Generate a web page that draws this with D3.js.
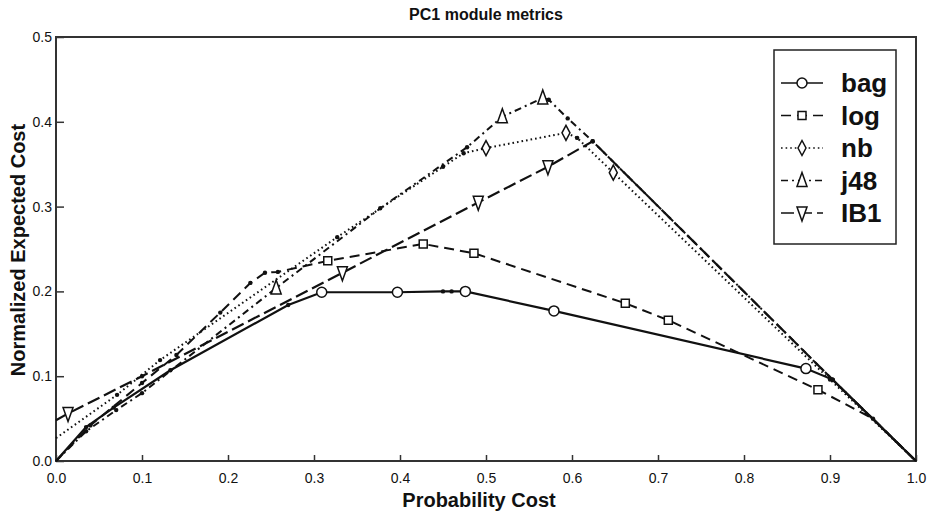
<!DOCTYPE html>
<html>
<head>
<meta charset="utf-8">
<script src="https://cdn.jsdelivr.net/npm/d3@7"></script>
<style>
  body { margin: 0; background: #fff; }
  text { font-family: "Liberation Sans", Arial, sans-serif; fill: #111; }
</style>
</head>
<body>
<div class="chart"></div>
<script>
// probability cost (x) / normalized expected cost (y)
var bagX = [0, 0.035, 0.067, 0.133, 0.27, 0.309, 0.397, 0.45, 0.46, 0.476, 0.579, 0.872, 0.903, 1];
var bagY = [0, 0.04, 0.063, 0.107, 0.184, 0.199, 0.199, 0.2, 0.2, 0.2, 0.177, 0.109, 0.096, 0];
var bagMark = [0, 0, 0, 0, 0, 1, 1, 0, 0, 1, 1, 1, 0, 0];

var logX = [0, 0.04, 0.1, 0.14, 0.191, 0.226, 0.243, 0.258, 0.316, 0.427, 0.486, 0.662, 0.712, 0.886, 0.95, 1];
var logY = [0, 0.042, 0.092, 0.125, 0.175, 0.21, 0.222, 0.223, 0.236, 0.256, 0.245, 0.186, 0.166, 0.084, 0.05, 0];
var logMark = [0, 0, 0, 0, 0, 0, 0, 0, 1, 1, 1, 1, 1, 1, 0, 0];

var nbX = [0, 0.071, 0.121, 0.327, 0.45, 0.474, 0.5, 0.593, 0.606, 0.648, 0.9, 1];
var nbY = [0.027, 0.078, 0.119, 0.264, 0.347, 0.363, 0.369, 0.387, 0.381, 0.34, 0.096, 0];
var nbMark = [0, 0, 0, 0, 0, 0, 1, 1, 0, 1, 0, 0];

var j48X = [0, 0.035, 0.07, 0.1, 0.256, 0.377, 0.478, 0.519, 0.566, 0.573, 0.595, 0.624, 0.903, 1];
var j48Y = [0, 0.035, 0.06, 0.08, 0.204, 0.298, 0.37, 0.406, 0.428, 0.426, 0.404, 0.377, 0.096, 0];
var j48Mark = [0, 0, 0, 0, 1, 0, 0, 1, 1, 0, 0, 0, 0, 0];

var ib1X = [0, 0.014, 0.1, 0.333, 0.491, 0.572, 0.624, 0.903, 1];
var ib1Y = [0.048, 0.056, 0.1, 0.222, 0.305, 0.347, 0.377, 0.096, 0];
var ib1Mark = [0, 1, 0, 1, 1, 1, 0, 0, 0];

var seriesNames = ["bag", "log", "nb", "j48", "IB1"];
var xTicks = [0, 0.1, 0.2, 0.3, 0.4, 0.5, 0.6, 0.7, 0.8, 0.9, 1.0];
var yTicks = [0, 0.1, 0.2, 0.3, 0.4, 0.5];

var width = 938, height = 516;
var margin = {top: 37, right: 22, bottom: 55, left: 56};

var svg = d3.select(".chart").append("svg")
    .attr("width", width)
    .attr("height", height);

var x = d3.scaleLinear().domain([0, 1]).range([margin.left, width - margin.right]);
var y = d3.scaleLinear().domain([0, 0.5]).range([height - margin.bottom, margin.top]);

function zip(xs, ys, ms) {
  return xs.map(function(v, i) { return {x: v, y: ys[i], m: ms[i], i: i, n: xs.length}; });
}

// marker shapes
function markerPath(kind) {
  switch (kind) {
    case "circle": return "M5,0A5,5 0 1,1 -5,0A5,5 0 1,1 5,0Z";
    case "square": return "M-4,-4H4V4H-4Z";
    case "diamond": return "M0,-7.5L4,0L0,7.5L-4,0Z";
    case "up": return "M0,-8L5,6H-5Z";
    case "down": return "M0,8L5,-6H-5Z";
  }
}

var series = [
  {name: "bag", data: zip(bagX, bagY, bagMark), dash: null, w: 2.2, mk: "circle"},
  {name: "log", data: zip(logX, logY, logMark), dash: "10,6", w: 2, mk: "square"},
  {name: "nb", data: zip(nbX, nbY, nbMark), dash: "1.6,3", w: 2, mk: "diamond"},
  {name: "j48", data: zip(j48X, j48Y, j48Mark), dash: "7,4,2,4", w: 2, mk: "up"},
  {name: "IB1", data: zip(ib1X, ib1Y, ib1Mark), dash: "13,5", w: 2.2, mk: "down"}
];

var line = d3.line()
    .x(function(d) { return x(d.x); })
    .y(function(d) { return y(d.y); });

// frame
svg.append("rect")
    .attr("x", x(0)).attr("y", y(0.5))
    .attr("width", x(1) - x(0)).attr("height", y(0) - y(0.5))
    .attr("fill", "none").attr("stroke", "#333").attr("stroke-width", 2);

// axes with inside ticks
var xAxis = d3.axisBottom(x).tickValues(xTicks).tickFormat(d3.format(".1f")).tickSizeInner(-6).tickSizeOuter(0).tickPadding(12);
var yAxis = d3.axisLeft(y).tickValues(yTicks).tickFormat(d3.format(".1f")).tickSizeInner(-8).tickSizeOuter(0).tickPadding(4);

var gx = svg.append("g").attr("transform", "translate(0," + y(0) + ")").call(xAxis);
var gy = svg.append("g").attr("transform", "translate(" + x(0) + ",0)").call(yAxis);
[gx, gy].forEach(function(g) {
  g.select(".domain").remove();
  g.selectAll(".tick line").attr("stroke", "#333").attr("stroke-width", 1.5);
  g.selectAll(".tick text").style("font-size", "14px").style("font-family", "Liberation Sans, Arial, sans-serif").attr("fill", "#111");
});

// curves
series.forEach(function(s) {
  svg.append("path")
      .datum(s.data)
      .attr("fill", "none")
      .attr("stroke", "#111")
      .attr("stroke-width", s.w)
      .attr("stroke-dasharray", s.dash)
      .attr("d", line);
});

// small vertex dots
series.forEach(function(s) {
  svg.selectAll(null)
      .data(s.data.filter(function(d) { return !d.m && d.i > 0 && d.i < d.n - 1; }))
      .enter().append("circle")
      .attr("cx", function(d) { return x(d.x); })
      .attr("cy", function(d) { return y(d.y); })
      .attr("r", 2.2)
      .attr("fill", "#111");
});

// open markers
series.forEach(function(s) {
  svg.selectAll(null)
      .data(s.data.filter(function(d) { return d.m; }))
      .enter().append("path")
      .attr("transform", function(d) { return "translate(" + x(d.x) + "," + y(d.y) + ")"; })
      .attr("d", markerPath(s.mk))
      .attr("fill", "#fff")
      .attr("stroke", "#111")
      .attr("stroke-width", 1.5);
});

// legend
var legend = svg.append("g").attr("transform", "translate(774,50)");
legend.append("rect")
    .attr("width", 122).attr("height", 194)
    .attr("fill", "#fff").attr("stroke", "#222").attr("stroke-width", 1.5);

series.forEach(function(s, i) {
  var row = legend.append("g").attr("transform", "translate(0," + (33 + i * 32.5) + ")");
  row.append("line")
      .attr("x1", 7).attr("x2", 49)
      .attr("stroke", "#111").attr("stroke-width", 1.6)
      .attr("stroke-dasharray", s.dash);
  row.append("path")
      .attr("transform", "translate(28,0)")
      .attr("d", markerPath(s.mk))
      .attr("fill", "#fff").attr("stroke", "#111").attr("stroke-width", 1.5);
  row.append("text")
      .attr("x", 67).attr("y", 9)
      .style("font-size", "26px").style("font-weight", "bold")
      .text(seriesNames[i]);
});

// titles
svg.append("text")
    .attr("x", 486).attr("y", 20)
    .attr("text-anchor", "middle")
    .style("font-size", "16px").style("font-weight", "bold")
    .text("PC1 module metrics");

svg.append("text")
    .attr("x", 479).attr("y", 507)
    .attr("text-anchor", "middle")
    .style("font-size", "20px").style("font-weight", "bold")
    .text("Probability Cost");

svg.append("text")
    .attr("transform", "translate(25,250) rotate(-90)")
    .attr("text-anchor", "middle")
    .style("font-size", "20px").style("font-weight", "bold")
    .text("Normalized Expected Cost");
</script>
</body>
</html>
